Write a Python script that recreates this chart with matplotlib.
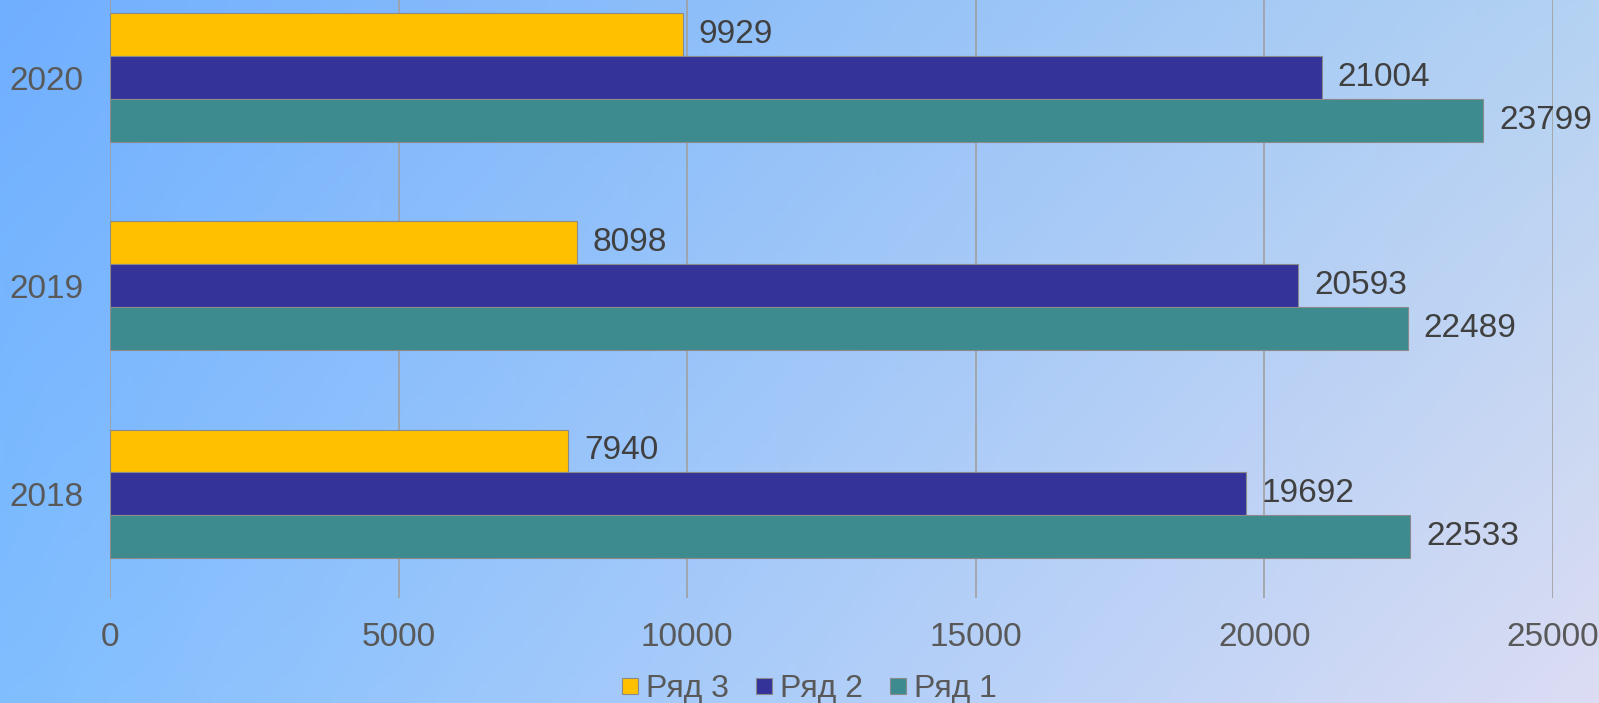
import numpy as np
import matplotlib
matplotlib.use("Agg")
import matplotlib.pyplot as plt
from matplotlib.colors import to_rgb
from matplotlib.lines import Line2D

years = ["2018", "2019", "2020"]
series_names = ["Ряд 1", "Ряд 2", "Ряд 3"]
row1 = [22533, 22489, 23799]
row2 = [19692, 20593, 21004]
row3 = [7940, 8098, 9929]
xticks = [0, 5000, 10000, 15000, 20000, 25000]

colors = {"Ряд 1": "#3D8B8F", "Ряд 2": "#333399", "Ряд 3": "#FFC000"}
values = {"Ряд 1": row1, "Ряд 2": row2, "Ряд 3": row3}

plt.rcParams['font.family'] = ['Liberation Sans', 'DejaVu Sans']

W, H = 1599, 703
fig = plt.figure(figsize=(W / 100, H / 100), dpi=100)

# background gradient (bilinear between corners)
tl = np.array(to_rgb("#70AFFF"))
tr = np.array(to_rgb("#B4D2F2"))
bl = np.array(to_rgb("#80BEFF"))
br = np.array(to_rgb("#DCDDF3"))
u = np.linspace(0, 1, 400)[None, :, None]
v = np.linspace(0, 1, 200)[:, None, None]
img = (1 - v) * ((1 - u) * tl + u * tr) + v * ((1 - u) * bl + u * br)
bg = fig.add_axes([0, 0, 1, 1], zorder=0)
bg.imshow(img, aspect='auto', extent=[0, 1, 0, 1], origin='upper')
bg.axis('off')

left = 110 / W
width = 1442.7 / W
bottom = (H - 598) / H
height = 624.5 / H
ax = fig.add_axes([left, bottom, width, height], zorder=1)
ax.patch.set_alpha(0)

y = np.arange(len(years))
bh = 43 / 208.5
offsets = {"Ряд 3": bh, "Ряд 2": 0.0, "Ряд 1": -bh}
text_color = "#404040"
order = ["Ряд 3", "Ряд 2", "Ряд 1"]
for name in order:
    vals = values[name]
    ax.barh(y + offsets[name], vals, height=bh, color=colors[name],
            edgecolor="#8a8a8a", linewidth=0.8, label=name, zorder=3)
    for yy, vv in zip(y + offsets[name], vals):
        ax.text(vv + 270, yy, f"{vv}", va='center', ha='left',
                fontsize=24, color=text_color, zorder=4)

ax.set_xlim(0, 25000)
ax.set_ylim(-0.5, 2.5)
ax.set_xticks(xticks)
ax.set_xticklabels([str(t) for t in xticks], fontsize=24, color="#595959")
ax.set_yticks(y)
ax.set_yticklabels(years, fontsize=24, color="#595959")
ax.tick_params(axis='x', length=0, pad=17)
ax.tick_params(axis='y', length=0, pad=19)
ax.grid(axis='x', color="#a0a0a0", linewidth=1.2, zorder=0)
for s in ax.spines.values():
    s.set_visible(False)

handles = [Line2D([], [], marker='s', linestyle='none', markersize=11.5,
                  markerfacecolor=colors[n], markeredgecolor='#8a8a8a',
                  markeredgewidth=0.8) for n in order]
fig.legend(handles, order, loc='center',
           bbox_to_anchor=(0.5 + 10 / W, (H - 689) / H),
           ncol=3, frameon=False, fontsize=23, labelcolor="#595959",
           handlelength=0.5, handletextpad=0.25, columnspacing=0.86)

fig.savefig("out.png", dpi=100)
